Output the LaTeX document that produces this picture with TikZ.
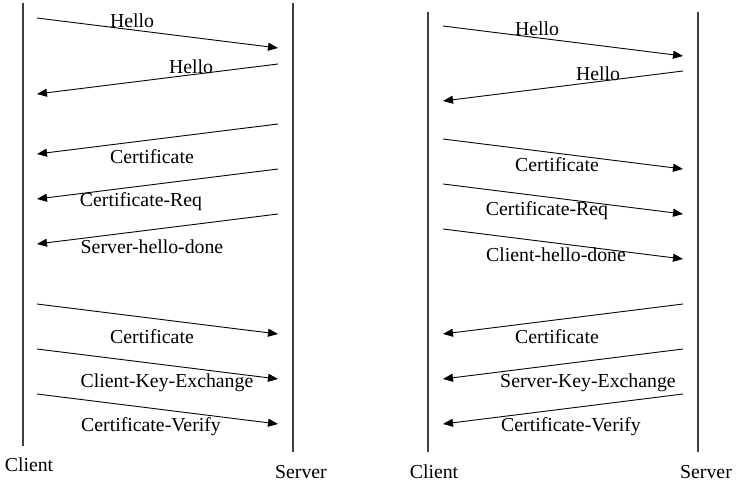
\documentclass[tikz,border=0pt]{standalone}
\usepackage{fontspec}
\setmainfont{Liberation Serif}
\usetikzlibrary{arrows.meta}
\begin{document}
\begin{tikzpicture}[x=1pt,y=-1pt,
  life/.style={draw=black!75,line width=1.3pt},
  msg/.style={draw=black,line width=0.9pt,-{Triangle[length=10pt,width=8pt]}},
  lbl/.style={inner sep=0pt,font=\fontsize{19.8}{23}\selectfont},
  endlbl/.style={inner sep=0pt,font=\fontsize{19.8}{23}\selectfont}]
\useasboundingbox (0,0) rectangle (740,484);
\fill[white] (0,0) rectangle (740,484);
% lifelines
\coordinate (lct) at (23,3); \coordinate (lcb) at (23,446);
\coordinate (lst) at (293,3); \coordinate (lsb) at (293,452);
\coordinate (rct) at (428,12); \coordinate (rcb) at (428,452);
\coordinate (rst) at (698,12); \coordinate (rsb) at (698,452);
\draw[life] (lct) -- (lcb);
\draw[life] (lst) -- (lsb);
\draw[life] (rct) -- (rcb);
\draw[life] (rst) -- (rsb);
\node[endlbl] (lclient) at (29,465) {Client};
\node[endlbl] (lserver) at (301,472) {Server};
\node[endlbl] (rclient) at (434,472) {Client};
\node[endlbl] (rserver) at (706,472) {Server};
% left messages
\coordinate (l1a) at (37,18);  \coordinate (l1b) at (278,48);
\coordinate (l2a) at (278,64); \coordinate (l2b) at (37,94);
\coordinate (l3a) at (278,124); \coordinate (l3b) at (37,154);
\coordinate (l4a) at (278,169); \coordinate (l4b) at (37,199);
\coordinate (l5a) at (278,214); \coordinate (l5b) at (37,244);
\coordinate (l6a) at (37,304); \coordinate (l6b) at (278,334);
\coordinate (l7a) at (37,349); \coordinate (l7b) at (278,379);
\coordinate (l8a) at (37,394); \coordinate (l8b) at (278,424);
\foreach \i in {1,...,8} {\draw[msg] (l\i a) -- (l\i b);}
\node[lbl] (lt1) at (132,21) {Hello};
\node[lbl] (lt2) at (191,67) {Hello};
\node[lbl] (lt3) at (152,157) {Certificate};
\node[lbl] (lt4) at (141,202) {Certificate-Req};
\node[lbl] (lt5) at (152,247) {Server-hello-done};
\node[lbl] (lt6) at (152,337) {Certificate};
\node[lbl] (lt7) at (167,383) {Client-Key-Exchange};
\node[lbl] (lt8) at (151,427) {Certificate-Verify};
% right messages
\coordinate (r1a) at (443,26);  \coordinate (r1b) at (683,56);
\coordinate (r2a) at (683,71);  \coordinate (r2b) at (443,101);
\coordinate (r3a) at (443,139); \coordinate (r3b) at (683,169);
\coordinate (r4a) at (443,184); \coordinate (r4b) at (683,214);
\coordinate (r5a) at (443,229); \coordinate (r5b) at (683,259);
\coordinate (r6a) at (683,304); \coordinate (r6b) at (443,334);
\coordinate (r7a) at (683,349); \coordinate (r7b) at (443,379);
\coordinate (r8a) at (683,394); \coordinate (r8b) at (443,424);
\foreach \i in {1,...,8} {\draw[msg] (r\i a) -- (r\i b);}
\node[lbl] (rt1) at (537,29) {Hello};
\node[lbl] (rt2) at (598,74) {Hello};
\node[lbl] (rt3) at (557,165) {Certificate};
\node[lbl] (rt4) at (547,211) {Certificate-Req};
\node[lbl] (rt5) at (556,255) {Client-hello-done};
\node[lbl] (rt6) at (557,337) {Certificate};
\node[lbl] (rt7) at (588,383) {Server-Key-Exchange};
\node[lbl] (rt8) at (571,427) {Certificate-Verify};
\end{tikzpicture}
\end{document}
